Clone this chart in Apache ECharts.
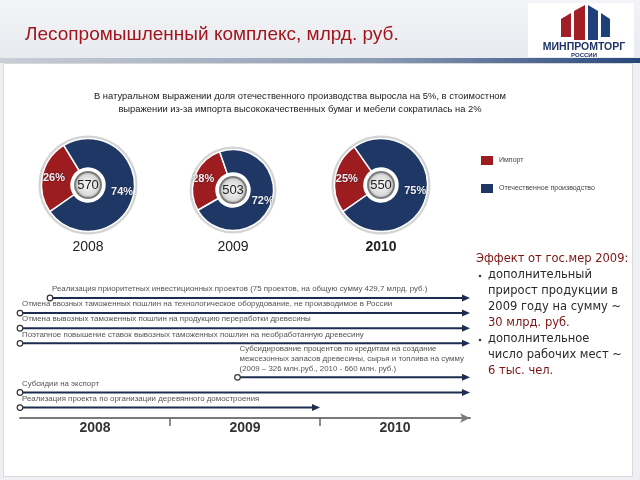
<!DOCTYPE html>
<html>
<head>
<meta charset="utf-8">
<script src="https://cdn.jsdelivr.net/npm/echarts@6/dist/echarts.min.js"></script>
<style>
  html, body { margin: 0; padding: 0; background: #eef0f3; }
  #chart { width: 640px; height: 480px; }
</style>
</head>
<body>
<div id="chart"></div>
<script>
// доли импорта / отечественного производства
const years = ["2008", "2009", "2010"];
const importShare = [26, 28, 25];
const domesticShare = [74, 72, 75];
const totals = [570, 503, 550];
const shareNames = ["Импорт", "Отечественное производство"];

// меры господдержки (временная шкала)
const measures = [
  "Реализация приоритетных инвестиционных проектов (75 проектов, на общую сумму 429,7 млрд. руб.)",
  "Отмена ввозных таможенных пошлин на технологическое оборудование, не производимое в России",
  "Отмена вывозных таможенных пошлин на продукцию переработки древесины",
  "Поэтапное повышение ставок вывозных таможенных пошлин на необработанную древесину",
  "Субсидирование процентов по кредитам на создание\nмежсезонных запасов древесины, сырья и топлива на сумму\n(2009 – 326 млн.руб., 2010 - 660 млн. руб.)",
  "Субсидии на экспорт",
  "Реализация проекта по организации деревянного домостроения"
];
const measureStart = [2008.2, 2008, 2008, 2008, 2009.45, 2008, 2008];
const measureEnd = [2011, 2011, 2011, 2011, 2011, 2011, 2010];
const timelineTicks = [2009, 2010];
const timelineLabels = [2008.5, 2009.5, 2010.5];

const effectLines = [
  "Эффект от гос.мер 2009:",
  "дополнительный",
  "прирост продукции в",
  "2009 году на сумму ~",
  "30 млрд. руб.",
  "дополнительное",
  "число рабочих мест ~",
  "6 тыс. чел."
];

const RED = "#9c1c20";
const BLUE = "#1f3764";

// layout of the three pies
const pieLayout = [
  { c: [88, 185], r: 47, start: 215 },
  { c: [233, 190], r: 41, start: 210 },
  { c: [381, 185], r: 47, start: 215 }
];

// lanes: space by number of label lines
let acc = 0.2;
const lanes = measures.map(m => (acc += m.split("\n").length + 0.6));

const series = [];
years.forEach((y, i) => {
  const p = pieLayout[i];
  series.push({
    type: "pie", name: "ring" + i, silent: true, center: p.c,
    radius: [p.r - 0.5, p.r + 2.5], label: { show: false },
    data: [{ name: "ring", value: 1, itemStyle: { color: "#d4d4d4" } }]
  });
  series.push({
    type: "pie", name: y, silent: true, center: p.c,
    radius: [17, p.r - 0.5], startAngle: p.start, clockwise: true,
    itemStyle: { borderColor: "#fff", borderWidth: 1.5 },
    label: {
      position: "inside", formatter: "{c}%", fontFamily: "Arial",
      fontSize: 11, fontWeight: "bold", color: "#eef0f6",
      textShadowColor: "rgba(0,0,0,0.5)", textShadowBlur: 2
    },
    labelLine: { show: false },
    data: [
      { name: shareNames[0], value: importShare[i], itemStyle: { color: RED } },
      { name: shareNames[1], value: domesticShare[i], itemStyle: { color: BLUE } }
    ]
  });
  series.push({
    type: "pie", name: "total" + i, silent: true, center: p.c,
    radius: [0, 13],
    itemStyle: {
      borderColor: "#7d7d7d", borderWidth: 2,
      color: {
        type: "radial", x: 0.5, y: 0.5, r: 0.5,
        colorStops: [{ offset: 0, color: "#f6f6f6" }, { offset: 0.7, color: "#dcdcdc" }, { offset: 1, color: "#a8a8a8" }]
      }
    },
    label: { position: "center", formatter: "{c}", fontFamily: "Arial", fontSize: 13, color: "#222" },
    data: [{ name: "total", value: totals[i] }]
  });
});

series.push({
  type: "custom",
  coordinateSystem: "cartesian2d",
  silent: true,
  encode: { x: [0, 1], y: 2 },
  data: measures.map((m, i) => [measureStart[i], measureEnd[i], lanes[i], i]),
  renderItem: function (params, api) {
    const i = api.value(3);
    const s = api.coord([api.value(0), api.value(2)]);
    const e = api.coord([api.value(1), api.value(2)]);
    return {
      type: "group",
      children: [
        { type: "line", shape: { x1: s[0], y1: s[1], x2: e[0] - 5, y2: e[1] }, style: { stroke: "#1e2d4f", lineWidth: 2 } },
        { type: "polygon", shape: { points: [[e[0] - 8, e[1] - 3.5], [e[0], e[1]], [e[0] - 8, e[1] + 3.5]] }, style: { fill: "#1e2d4f" } },
        { type: "circle", shape: { cx: s[0], cy: s[1], r: 2.8 }, style: { fill: "#fff", stroke: "#333", lineWidth: 1.2 } },
        {
          type: "text",
          style: {
            x: s[0] + 2, y: s[1] - 4, text: measures[i], fill: "#555",
            font: "7.9px Arial", verticalAlign: "bottom", lineHeight: 10
          }
        }
      ]
    };
  }
});

// decoration: header, panel, logo, texts
const graphic = [
  { type: "rect", shape: { x: 0, y: 0, width: 640, height: 58 },
    style: { fill: { type: "linear", x: 0, y: 0, x2: 0, y2: 1, colorStops: [{ offset: 0, color: "#f3f4f7" }, { offset: 1, color: "#e7eaef" }] } } },
  { type: "rect", shape: { x: 0, y: 58, width: 640, height: 5 },
    style: { fill: { type: "linear", x: 0, y: 0, x2: 1, y2: 0, colorStops: [{ offset: 0, color: "#c9ced6" }, { offset: 0.6, color: "#8a9ab4" }, { offset: 1, color: "#27477a" }] } } },
  { type: "rect", shape: { x: 3.5, y: 63.5, width: 629, height: 413 }, style: { fill: "#fff", stroke: "#d8d8d8", lineWidth: 1 } },
  { type: "rect", shape: { x: 528, y: 3, width: 106, height: 54 }, style: { fill: "#fff" } },
  { type: "polygon", shape: { points: [[561, 19], [571, 13], [571, 37], [561, 37]] }, style: { fill: "#a31d24" } },
  { type: "polygon", shape: { points: [[574, 11], [585, 5], [585, 40], [574, 40]] }, style: { fill: "#a31d24" } },
  { type: "polygon", shape: { points: [[588, 5], [598, 11], [598, 40], [588, 40]] }, style: { fill: "#1f3f7a" } },
  { type: "polygon", shape: { points: [[601, 13], [610, 19], [610, 37], [601, 37]] }, style: { fill: "#1f3f7a" } },
  { type: "text", style: { x: 584, y: 47, text: "МИНПРОМТОРГ", fill: "#1f3466", font: "bold 10.5px Arial", align: "center", verticalAlign: "middle" } },
  { type: "text", style: { x: 584, y: 55, text: "РОССИИ", fill: "#1f3466", font: "bold 6px Arial", align: "center", verticalAlign: "middle" } },
  { type: "text", style: { x: 300, y: 103,
      text: "В натуральном выражении доля отечественного производства выросла на 5%, в стоимостном\nвыражении из-за импорта высококачественных бумаг и мебели сократилась на 2%",
      fill: "#1a1a1a", font: "9.4px Arial", align: "center", verticalAlign: "middle", lineHeight: 13 } }
];
years.forEach((y, i) => {
  graphic.push({ type: "text", style: { x: pieLayout[i].c[0], y: 247, text: y, fill: "#222",
    font: (i === 2 ? "bold " : "") + "14px Arial", align: "center", verticalAlign: "middle" } });
});
const redLines = [0, 4, 7];
effectLines.forEach((t, i) => {
  const bullet = i === 1 || i === 5;
  graphic.push({ type: "text", style: { x: i === 0 ? 476 : 488, y: 259 + i * 16, text: t,
    fill: redLines.indexOf(i) >= 0 ? "#7e1414" : "#2a2a2a",
    font: "11.5px 'DejaVu Sans'", verticalAlign: "middle" } });
  if (bullet) {
    graphic.push({ type: "circle", shape: { cx: 480, cy: 259 + i * 16 + 1, r: 1.3 }, style: { fill: "#333" } });
  }
});

const chart = echarts.init(document.getElementById("chart"), null, { renderer: "canvas" });
chart.setOption({
  animation: false,
  backgroundColor: "#eef0f3",
  title: {
    text: "Лесопромышленный комплекс, млрд. руб.",
    left: 20, top: 20,
    textStyle: { color: "#a0161c", fontSize: 19, fontWeight: "normal", fontFamily: "Arial" }
  },
  legend: {
    data: shareNames, orient: "vertical", left: 474, top: 149,
    itemWidth: 14, itemHeight: 11, itemGap: 15, icon: "rect", selectedMode: false,
    textStyle: { fontSize: 7, color: "#444", fontFamily: "Arial" }
  },
  grid: { left: 20, right: 170, top: 281, bottom: 62 },
  xAxis: {
    type: "value", min: 2008, max: 2011, position: "bottom",
    splitLine: { show: false },
    axisLine: { onZero: false, lineStyle: { color: "#7a7a7a", width: 2 }, symbol: ["none", "arrow"], symbolSize: [7, 10] },
    axisTick: { customValues: timelineTicks, length: 8, lineStyle: { color: "#666", width: 1.5 } },
    axisLabel: {
      customValues: timelineLabels, formatter: v => String(Math.floor(v)), margin: 3,
      fontSize: 14, fontWeight: "bold", color: "#333", fontFamily: "Arial"
    }
  },
  yAxis: { type: "value", inverse: true, min: 0, max: 14.5, show: false },
  graphic: { elements: graphic },
  series: series
});
</script>
</body>
</html>
